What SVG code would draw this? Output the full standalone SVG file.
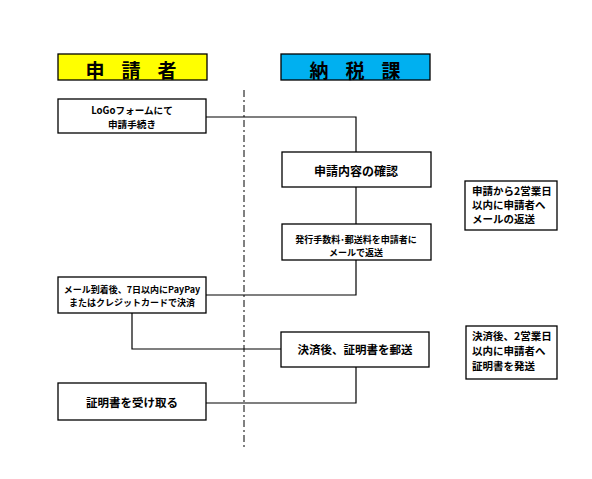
<svg xmlns="http://www.w3.org/2000/svg" width="592" height="479" viewBox="0 0 592 479">
<style>
.box{fill:#fff;stroke:#000;stroke-width:1.3}
.t{font-family:"Noto Sans CJK JP","Noto Sans",sans-serif;font-weight:bold;fill:#000;text-anchor:middle}
.l{text-anchor:start}
.c{fill:none;stroke:#000;stroke-width:1.2}
</style>
<rect width="592" height="479" fill="#fff"/>
<g id="header-applicant">
<rect x="58" y="54" width="149" height="26" fill="#FFFF00" stroke="#000" stroke-width="1.3"/>
<text class="t" x="95 131 167" y="78" font-size="19">申請者</text>
</g>
<g id="header-tax">
<rect x="281" y="54" width="149" height="26" fill="#00B0F0" stroke="#000" stroke-width="1.3"/>
<text class="t" x="319 355 391" y="78" font-size="19">納税課</text>
</g>
<g id="connectors">
<line x1="244" y1="90" x2="244" y2="450" stroke="#000" stroke-width="1" stroke-dasharray="7,3,2,3"/>
<polyline class="c" points="206,117 356,117 356,152"/>
<line class="c" x1="356" y1="187" x2="356" y2="224"/>
<polyline class="c" points="356,260 356,295 206,295"/>
<polyline class="c" points="132,313 132,349 281,349"/>
<polyline class="c" points="356,367 356,403 206,403"/>
</g>
<g id="n1">
<rect class="box" x="58" y="99" width="148" height="34"/>
<text class="t" x="132" y="113.5" font-size="9.6">LoGoフォームにて</text>
<text class="t" x="132" y="127.5" font-size="9.6">申請手続き</text>
</g>
<g id="n2">
<rect class="box" x="282" y="152" width="149" height="35"/>
<text class="t" x="356" y="176" font-size="12">申請内容の確認</text>
</g>
<g id="n3">
<rect class="box" x="282" y="224" width="149" height="36"/>
<text class="t" x="356" y="243" font-size="9">発行手数料･郵送料を申請者に</text>
<text class="t" x="356" y="256" font-size="9">メールで返送</text>
</g>
<g id="n4">
<rect class="box" x="58" y="277" width="148" height="36"/>
<text class="t" x="132" y="293" font-size="9">メール到着後、7日以内にPayPay</text>
<text class="t" x="132" y="306" font-size="9">またはクレジットカードで決済</text>
</g>
<g id="n5">
<rect class="box" x="281" y="332" width="148" height="35"/>
<text class="t" x="355" y="354" font-size="11.5">決済後、証明書を郵送</text>
</g>
<g id="n6">
<rect class="box" x="58" y="383" width="148" height="37"/>
<text class="t" x="132" y="407" font-size="11.5">証明書を受け取る</text>
</g>
<g id="noteA">
<rect class="box" x="465" y="181" width="92" height="49"/>
<text class="t l" x="472" y="195" font-size="10.5">申請から2営業日</text>
<text class="t l" x="472" y="209" font-size="10.5">以内に申請者へ</text>
<text class="t l" x="472" y="223" font-size="10.5">メールの返送</text>
</g>
<g id="noteB">
<rect class="box" x="466" y="326" width="91" height="53"/>
<text class="t l" x="472" y="340" font-size="10.5">決済後、2営業日</text>
<text class="t l" x="472" y="355" font-size="10.5">以内に申請者へ</text>
<text class="t l" x="472" y="370" font-size="10.5">証明書を発送</text>
</g>
</svg>
